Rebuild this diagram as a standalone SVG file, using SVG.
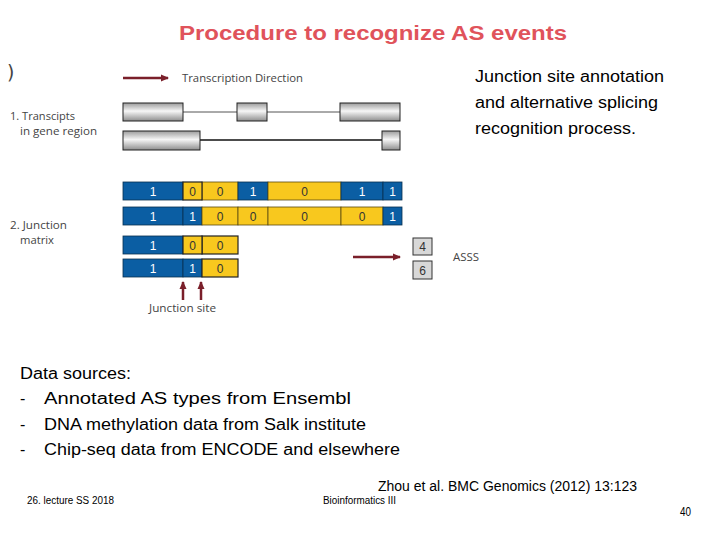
<svg xmlns="http://www.w3.org/2000/svg" width="720" height="540" viewBox="0 0 720 540">
<defs>
<linearGradient id="exon" x1="0" y1="0" x2="0" y2="1">
<stop offset="0" stop-color="#9c9c9c"/>
<stop offset="0.45" stop-color="#f6f6f6"/>
<stop offset="1" stop-color="#8e8e8e"/>
</linearGradient>
<marker id="ah" markerWidth="8" markerHeight="8" refX="7" refY="4" orient="auto" markerUnits="userSpaceOnUse">
<path d="M0,0.5 L8,4 L0,7.5 z" fill="#7a1f2a"/>
</marker>
<style>
.lbl{font-family:"Open Sans","DejaVu Sans",sans-serif;font-size:11px;fill:#444}
.body{font-family:"Liberation Sans",Arial,sans-serif;font-size:16px;fill:#000}
.foot{font-family:"Liberation Sans",Arial,sans-serif;fill:#000}
.ex{fill:url(#exon);stroke:#222;stroke-width:1}
.b{fill:#0b5ea3;stroke:#08304f;stroke-width:0.8}
.y{fill:#f8c81e;stroke:#5a4a10;stroke-width:0.8}
.yo{fill:#f8c81e;stroke:#222;stroke-width:1.2}
.tb{font-family:"Liberation Sans",Arial,sans-serif;font-size:12px;fill:#fff;text-anchor:middle}
.ty{font-family:"Liberation Sans",Arial,sans-serif;font-size:12px;fill:#333;text-anchor:middle}
.arr{stroke:#7a1f2a;stroke-width:2.5;fill:none}
.gb{fill:#d8d8d8;stroke:#333;stroke-width:1}
</style>
</defs>
<rect width="720" height="540" fill="#fff"/>

<text x="373" y="40" text-anchor="middle" font-family="Liberation Sans,Arial,sans-serif" font-weight="bold" font-size="21" fill="#e0535b" textLength="388" lengthAdjust="spacingAndGlyphs">Procedure to recognize AS events</text>

<g id="right-caption" class="body">
<text x="475" y="82" textLength="189" lengthAdjust="spacingAndGlyphs">Junction site annotation</text>
<text x="475" y="108" textLength="183" lengthAdjust="spacingAndGlyphs">and alternative splicing</text>
<text x="475" y="134" textLength="161" lengthAdjust="spacingAndGlyphs">recognition process.</text>
</g>

<text x="7" y="79" font-family="DejaVu Sans,sans-serif" font-size="19" fill="#444">)</text>

<g id="legend">
<text class="lbl" x="182" y="82" textLength="121" lengthAdjust="spacingAndGlyphs">Transcription Direction</text>
</g>

<g id="labels">
<text class="lbl" x="10" y="120" textLength="65" lengthAdjust="spacingAndGlyphs">1. Transcipts</text>
<text class="lbl" x="20" y="135" textLength="77" lengthAdjust="spacingAndGlyphs">in gene region</text>
<text class="lbl" x="10" y="229" textLength="57" lengthAdjust="spacingAndGlyphs">2. Junction</text>
<text class="lbl" x="20" y="244" textLength="34" lengthAdjust="spacingAndGlyphs">matrix</text>
<text class="lbl" x="149" y="312" textLength="67" lengthAdjust="spacingAndGlyphs">Junction site</text>
<text class="lbl" x="453" y="261" textLength="26" lengthAdjust="spacingAndGlyphs">ASSS</text>
</g>

<g id="connectors">
<line class="arr" x1="123" y1="78" x2="168" y2="78" marker-end="url(#ah)"/>
<line x1="183" y1="112" x2="340" y2="112" stroke="#555" stroke-width="1"/>
<line x1="200" y1="140" x2="382" y2="140" stroke="#111" stroke-width="1.3"/>
<line class="arr" x1="353" y1="257" x2="400" y2="257" marker-end="url(#ah)"/>
<line class="arr" x1="183" y1="300" x2="183" y2="282" marker-end="url(#ah)"/>
<line class="arr" x1="201" y1="300" x2="201" y2="282" marker-end="url(#ah)"/>
</g>

<g id="transcript1">
<rect class="ex" x="123" y="103" width="60" height="18"/>
<rect class="ex" x="237" y="103" width="30" height="18"/>
<rect class="ex" x="340" y="103" width="60" height="18"/>
</g>
<g id="transcript2">
<rect class="ex" x="123" y="131" width="77" height="19"/>
<rect class="ex" x="382" y="131" width="18" height="19"/>
</g>

<g id="matrix-row1">
<rect class="b" x="123" y="182" width="60" height="18"/><text class="tb" x="153" y="195.5">1</text>
<rect class="y" x="202" y="182" width="36" height="18"/><text class="ty" x="220" y="195.5">0</text>
<rect class="b" x="238" y="182" width="30" height="18"/><text class="tb" x="253" y="195.5">1</text>
<rect class="y" x="268" y="182" width="73" height="18"/><text class="ty" x="304.5" y="195.5">0</text>
<rect class="b" x="341" y="182" width="42" height="18"/><text class="tb" x="362" y="195.5">1</text>
<rect class="b" x="383" y="182" width="19" height="18"/><text class="tb" x="392.5" y="195.5">1</text>
<rect class="yo" x="183" y="182" width="19" height="18"/><text class="ty" x="192.5" y="195.5">0</text>
</g>
<g id="matrix-row2">
<rect class="b" x="123" y="207" width="60" height="18"/><text class="tb" x="153" y="220.5">1</text>
<rect class="b" x="183" y="207" width="19" height="18"/><text class="tb" x="192.5" y="220.5">1</text>
<rect class="y" x="202" y="207" width="36" height="18"/><text class="ty" x="220" y="220.5">0</text>
<rect class="y" x="238" y="207" width="30" height="18"/><text class="ty" x="253" y="220.5">0</text>
<rect class="y" x="268" y="207" width="73" height="18"/><text class="ty" x="304.5" y="220.5">0</text>
<rect class="y" x="341" y="207" width="42" height="18"/><text class="ty" x="362" y="220.5">0</text>
<rect class="b" x="383" y="207" width="19" height="18"/><text class="tb" x="392.5" y="220.5">1</text>
</g>
<g id="matrix-row3">
<rect class="b" x="123" y="236" width="60" height="18"/><text class="tb" x="153" y="249.5">1</text>
<rect class="y" x="202" y="236" width="36" height="18" style="stroke:#222;stroke-width:1.2"/><text class="ty" x="220" y="249.5">0</text>
<rect class="yo" x="183" y="236" width="19" height="18"/><text class="ty" x="192.5" y="249.5">0</text>
</g>
<g id="matrix-row4">
<rect class="b" x="123" y="259" width="60" height="18"/><text class="tb" x="153" y="272.5">1</text>
<rect class="b" x="183" y="259" width="19" height="18"/><text class="tb" x="192.5" y="272.5">1</text>
<rect class="y" x="202" y="259" width="36" height="18" style="stroke:#222;stroke-width:1.2"/><text class="ty" x="220" y="272.5">0</text>
</g>

<g id="count-4">
<rect class="gb" x="413" y="238" width="19" height="17"/>
<text class="ty" x="422.5" y="251">4</text>
</g>
<g id="count-6">
<rect class="gb" x="413" y="261" width="19" height="18"/>
<text class="ty" x="422.5" y="275">6</text>
</g>

<g id="data-sources" class="body">
<text x="20" y="379" textLength="111" lengthAdjust="spacingAndGlyphs">Data sources:</text>
<text x="20" y="404">-</text>
<text x="44" y="404" textLength="307" lengthAdjust="spacingAndGlyphs">Annotated AS types from Ensembl</text>
<text x="20" y="430">-</text>
<text x="44" y="430" textLength="322" lengthAdjust="spacingAndGlyphs">DNA methylation data from Salk institute</text>
<text x="20" y="455">-</text>
<text x="44" y="455" textLength="356" lengthAdjust="spacingAndGlyphs">Chip-seq data from ENCODE and elsewhere</text>
</g>

<g id="footer" class="foot">
<text x="378" y="491" font-size="14" textLength="259" lengthAdjust="spacingAndGlyphs">Zhou et al. BMC Genomics (2012) 13:123</text>
<text x="27" y="504" font-size="10" textLength="87" lengthAdjust="spacingAndGlyphs">26. lecture SS 2018</text>
<text x="323" y="504" font-size="10" textLength="73" lengthAdjust="spacingAndGlyphs">Bioinformatics III</text>
<text x="680" y="516" font-size="12" textLength="11" lengthAdjust="spacingAndGlyphs">40</text>
</g>
</svg>
